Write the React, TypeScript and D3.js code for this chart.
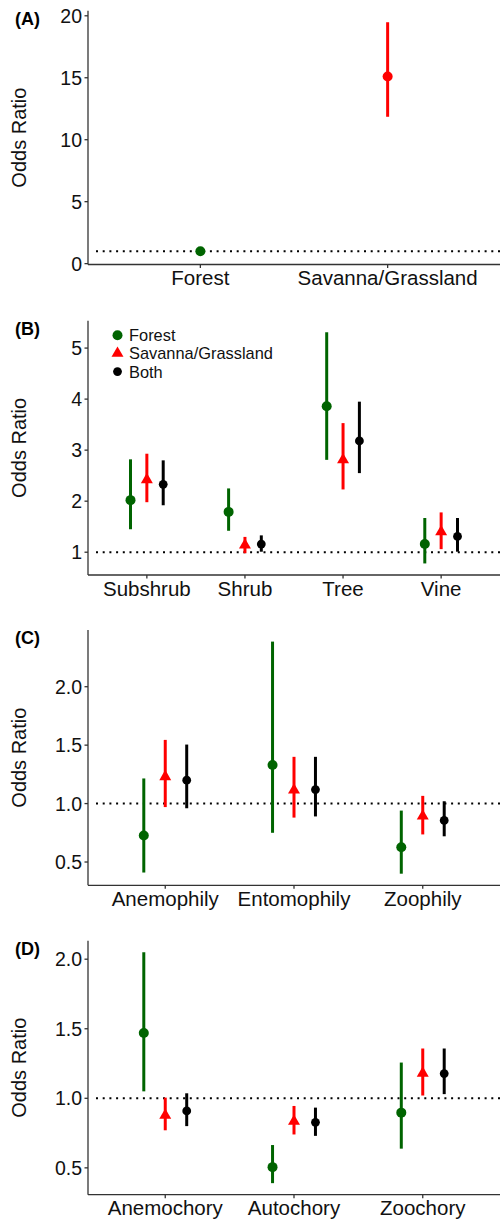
import React from "react";
import * as d3 from "d3";

// ---- Data ----
const habitatNames = ["Forest", "Savanna/Grassland"];
const habitatOdds = [1.0, 15.1];
const habitatLower = [0.86, 11.85];
const habitatUpper = [1.16, 19.48];

const seriesNames = ["Forest", "Savanna/Grassland", "Both"];

const growthForms = ["Subshrub", "Shrub", "Tree", "Vine"];
const growthOdds = [
  [2.02, 1.79, 3.86, 1.16],
  [2.42, 1.14, 2.81, 1.4],
  [2.33, 1.16, 3.18, 1.31],
];
const growthLower = [
  [1.45, 1.42, 2.81, 0.78],
  [1.98, 0.98, 2.23, 1.06],
  [1.92, 1.01, 2.55, 1.01],
];
const growthUpper = [
  [2.82, 2.25, 5.31, 1.67],
  [2.93, 1.3, 3.53, 1.78],
  [2.8, 1.33, 3.95, 1.67],
];

const pollination = ["Anemophily", "Entomophily", "Zoophily"];
const pollOdds = [
  [0.727, 1.33, 0.627],
  [1.23, 1.115, 0.893],
  [1.2, 1.12, 0.856],
];
const pollLower = [
  [0.41, 0.75, 0.4],
  [0.97, 0.88, 0.736],
  [0.96, 0.89, 0.72],
];
const pollUpper = [
  [1.215, 2.386, 0.94],
  [1.545, 1.4, 1.066],
  [1.505, 1.4, 1.02],
];

const dispersal = ["Anemochory", "Autochory", "Zoochory"];
const dispOdds = [
  [1.47, 0.505, 0.897],
  [0.877, 0.834, 1.18],
  [0.909, 0.827, 1.178],
];
const dispLower = [
  [1.05, 0.39, 0.638],
  [0.77, 0.74, 1.02],
  [0.8, 0.73, 1.03],
];
const dispUpper = [
  [2.05, 0.664, 1.257],
  [1.005, 0.945, 1.358],
  [1.036, 0.933, 1.358],
];

const ticksA = [0, 5, 10, 15, 20];
const ticksB = [1, 2, 3, 4, 5];
const ticksC = [0.5, 1.0, 1.5, 2.0];
const ticksD = [0.5, 1.0, 1.5, 2.0];

// ---- Styling ----
const COLORS = ["#006400", "#FF0000", "#000000"];
const FONT = "'Liberation Sans', Arial, Helvetica, sans-serif";
const TEXT = "#111";
const W = 500;
const H = 1221;
const LEFT = 88;
const RIGHT = 500;

type Pt = { cat: string; series: number; v: number; lo: number; hi: number };

// 5% padding on both sides of the interval range
function expandDomain(pts: Pt[]): [number, number] {
  const lo = d3.min(pts, (p) => p.lo) as number;
  const hi = d3.max(pts, (p) => p.hi) as number;
  const r = hi - lo;
  return [lo - 0.05 * r, hi + 0.05 * r];
}

function Marker({ x, y, series, color }: { x: number; y: number; series: number; color: string }) {
  if (series === 1) {
    const sym = d3.symbol(d3.symbolTriangle, 62)();
    return <path d={sym || ""} transform={`translate(${x},${y})`} fill={color} />;
  }
  return <circle cx={x} cy={y} r={series === 2 ? 4.4 : 5} fill={color} />;
}

function Panel({
  label,
  top,
  bottom,
  cats,
  pts,
  ticks,
  fmt,
  nSeries,
  legend,
}: {
  label: string;
  top: number;
  bottom: number;
  cats: string[];
  pts: Pt[];
  ticks: number[];
  fmt: (v: number) => string;
  nSeries: number;
  legend?: boolean;
}) {
  const y = d3.scaleLinear().domain(expandDomain(pts)).range([bottom, top]);
  const x = d3.scalePoint<string>().domain(cats).range([LEFT, RIGHT]).padding(0.6);
  const step = x.step();
  const dodge = d3
    .scaleBand<number>()
    .domain(d3.range(nSeries))
    .range([-0.25 * step, 0.25 * step]);
  const xOf = (p: Pt) =>
    (x(p.cat) as number) + (nSeries > 1 ? (dodge(p.series) as number) + dodge.bandwidth() / 2 : 0);
  const midY = (top + bottom) / 2;

  return (
    <g>
      <text x={15} y={top + 14} fontFamily={FONT} fontWeight="bold" fontSize={18} fill="#000">
        {label}
      </text>
      <text
        transform={`translate(26,${midY}) rotate(-90)`}
        textAnchor="middle"
        fontFamily={FONT}
        fontSize={20}
        fill={TEXT}
      >
        Odds Ratio
      </text>
      {/* reference line at odds ratio 1 */}
      <line
        x1={LEFT + 8}
        x2={RIGHT}
        y1={y(1)}
        y2={y(1)}
        stroke="#000"
        strokeWidth={2}
        strokeDasharray="2,4.7"
      />
      {/* axes */}
      <line x1={LEFT} x2={LEFT} y1={top} y2={bottom} stroke="#333" strokeWidth={1.3} />
      <line x1={LEFT} x2={RIGHT} y1={bottom} y2={bottom} stroke="#333" strokeWidth={1.3} />
      {ticks.map((t) => (
        <g key={t}>
          <line x1={LEFT - 3.5} x2={LEFT} y1={y(t)} y2={y(t)} stroke="#333" strokeWidth={1.3} />
          <text
            x={LEFT - 6}
            y={y(t)}
            dy="0.36em"
            textAnchor="end"
            fontFamily={FONT}
            fontSize={19.5}
            fill={TEXT}
          >
            {fmt(t)}
          </text>
        </g>
      ))}
      {cats.map((c) => (
        <g key={c}>
          <line
            x1={x(c) as number}
            x2={x(c) as number}
            y1={bottom}
            y2={bottom + 3.5}
            stroke="#333"
            strokeWidth={1.3}
          />
          <text
            x={x(c) as number}
            y={bottom + 20.5}
            textAnchor="middle"
            fontFamily={FONT}
            fontSize={20.5}
            fill={TEXT}
          >
            {c}
          </text>
        </g>
      ))}
      {/* confidence intervals and estimates */}
      {pts.map((p, i) => {
        const col = nSeries > 1 ? COLORS[p.series] : COLORS[i];
        const cx = xOf(p);
        return (
          <g key={`${p.cat}-${p.series}`}>
            <line x1={cx} x2={cx} y1={y(p.lo)} y2={y(p.hi)} stroke={col} strokeWidth={3} />
            <Marker x={cx} y={y(p.v)} series={nSeries > 1 ? p.series : 0} color={col} />
          </g>
        );
      })}
      {legend && (
        <g>
          {seriesNames.map((s, i) => {
            const ly = top + 14.5 + i * 18.2;
            return (
              <g key={s}>
                <Marker x={117.5} y={ly} series={i} color={COLORS[i]} />
                <text x={129} y={ly} dy="0.36em" fontFamily={FONT} fontSize={16.4} fill={TEXT}>
                  {s}
                </text>
              </g>
            );
          })}
        </g>
      )}
    </g>
  );
}

function grouped(cats: string[], odds: number[][], lo: number[][], hi: number[][]): Pt[] {
  const out: Pt[] = [];
  cats.forEach((c, ci) => {
    odds.forEach((row, si) => {
      out.push({ cat: c, series: si, v: row[ci], lo: lo[si][ci], hi: hi[si][ci] });
    });
  });
  return out;
}

export default function App() {
  const ptsA: Pt[] = habitatNames.map((c, i) => ({
    cat: c,
    series: 0,
    v: habitatOdds[i],
    lo: habitatLower[i],
    hi: habitatUpper[i],
  }));
  const ptsB = grouped(growthForms, growthOdds, growthLower, growthUpper);
  const ptsC = grouped(pollination, pollOdds, pollLower, pollUpper);
  const ptsD = grouped(dispersal, dispOdds, dispLower, dispUpper);

  return (
    <svg
      width={W}
      height={H}
      viewBox={`0 0 ${W} ${H}`}
      style={{ position: "absolute", left: 0, top: 0, background: "#fff" }}
    >
      <rect width={W} height={H} fill="#fff" />
      <Panel label="(A)" top={10.7} bottom={264.5} cats={habitatNames} pts={ptsA} ticks={ticksA} fmt={d3.format("d")} nSeries={1} />
      <Panel label="(B)" top={320.7} bottom={575} cats={growthForms} pts={ptsB} ticks={ticksB} fmt={d3.format("d")} nSeries={3} legend />
      <Panel label="(C)" top={630} bottom={885.3} cats={pollination} pts={ptsC} ticks={ticksC} fmt={d3.format(".1f")} nSeries={3} />
      <Panel label="(D)" top={940.7} bottom={1194.7} cats={dispersal} pts={ptsD} ticks={ticksD} fmt={d3.format(".1f")} nSeries={3} />
    </svg>
  );
}
